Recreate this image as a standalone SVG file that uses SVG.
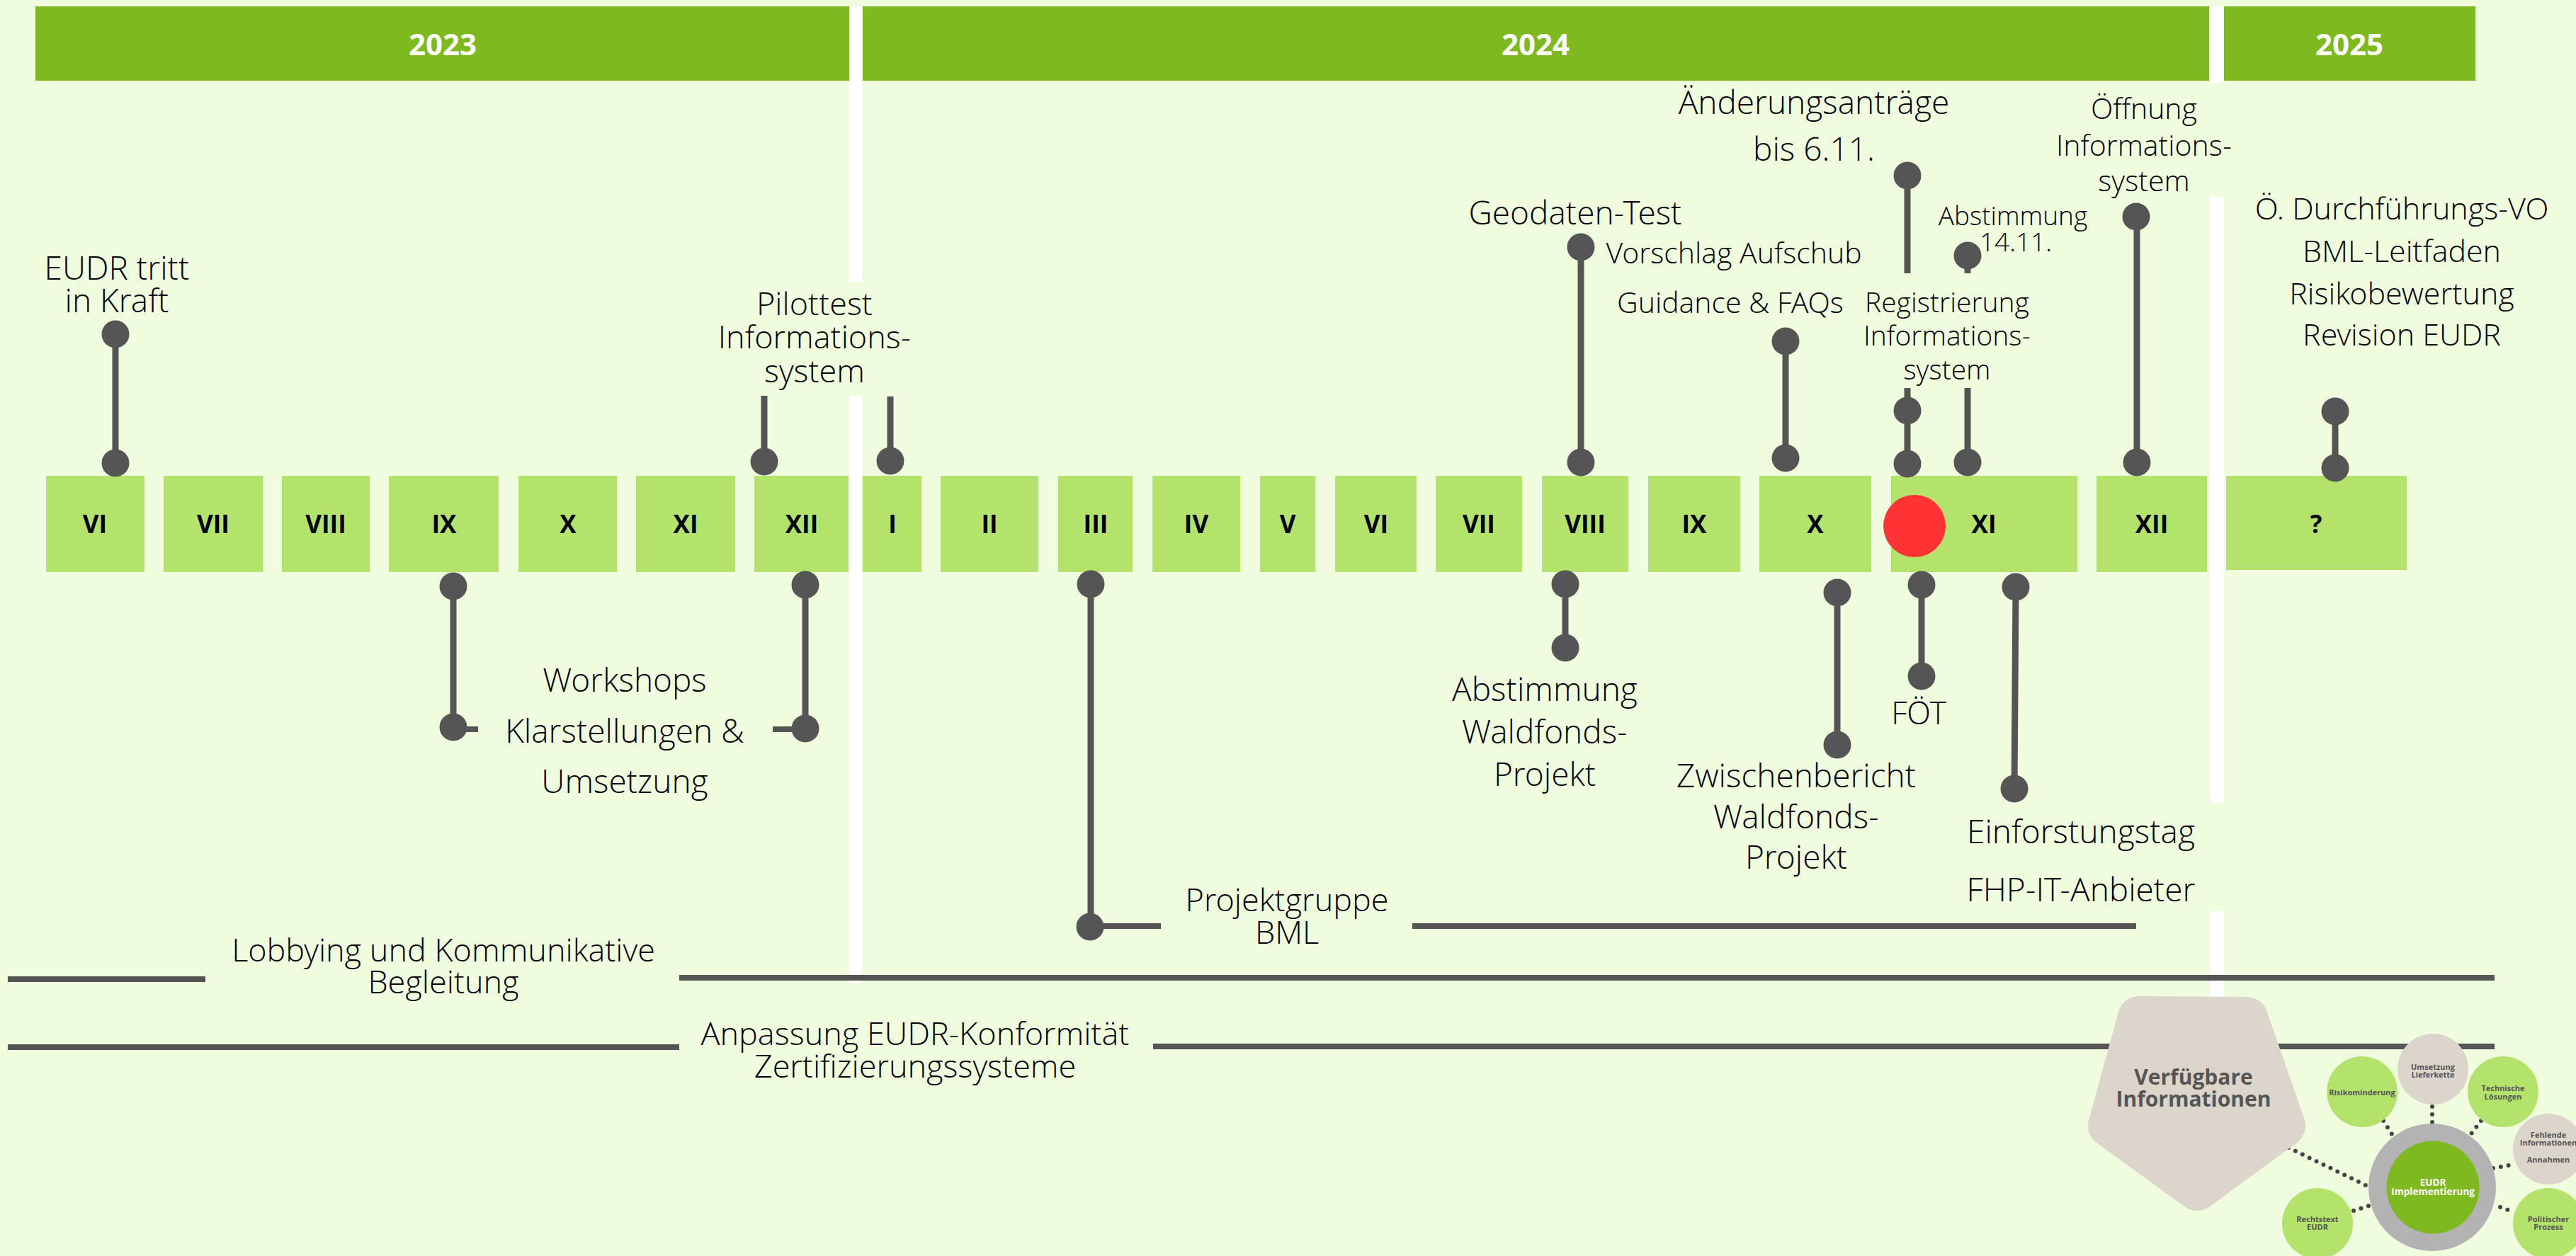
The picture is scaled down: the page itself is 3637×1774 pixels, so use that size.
<svg xmlns="http://www.w3.org/2000/svg" width="3637" height="1774" viewBox="0 0 3637 1774">
<style>
.yr{fill:#7FB920}
.yt{font-family:"Open Sans","Liberation Sans",sans-serif;font-weight:700;font-size:42px;fill:#FFFFFF;text-anchor:middle}
.mb{fill:#B3E36B}
.mt{font-family:"Open Sans","Liberation Sans",sans-serif;font-weight:700;font-size:35px;fill:#000;text-anchor:middle}
.lbl{font-family:"Open Sans Light","Open Sans","Liberation Sans",sans-serif;font-weight:300;font-size:46px;fill:#000;text-anchor:middle}
.sep{fill:#FFFFFF}
.pl{stroke:#555555;stroke-width:9;fill:none}
.pd{fill:#555555}
.bar{stroke:#555555;stroke-width:8;fill:none}
.ct{font-family:"Open Sans","Liberation Sans",sans-serif;font-weight:700;font-size:11px;fill:#555555;text-anchor:middle}
.dots{stroke:#444444;stroke-width:6;stroke-linecap:round;stroke-dasharray:0 11;fill:none}
</style>
<rect width="3637" height="1774" fill="#F0FCDE"/>

<g id="separators">
<rect class="sep" x="1199" y="9" width="18" height="389"/>
<rect class="sep" x="1199" y="559" width="18" height="830"/>
<rect class="sep" x="3120" y="9" width="20" height="108"/>
<rect class="sep" x="3120" y="278" width="20" height="856"/>
<rect class="sep" x="3120" y="1287" width="20" height="121"/>
</g>

<g id="years">
<g id="y2023"><rect class="yr" x="50" y="9" width="1149" height="105"/><text class="yt" x="625" y="78">2023</text></g>
<g id="y2024"><rect class="yr" x="1218" y="9" width="1901" height="105"/><text class="yt" x="2168" y="78">2024</text></g>
<g id="y2025"><rect class="yr" x="3140" y="9" width="355" height="105"/><text class="yt" x="3317" y="78">2025</text></g>
</g>

<g id="months">
<g id="m23-06"><rect class="mb" x="65" y="672" width="139" height="136"/><text class="mt" x="134" y="753">VI</text></g>
<g id="m23-07"><rect class="mb" x="231" y="672" width="140" height="136"/><text class="mt" x="301" y="753">VII</text></g>
<g id="m23-08"><rect class="mb" x="398" y="672" width="124" height="136"/><text class="mt" x="460" y="753">VIII</text></g>
<g id="m23-09"><rect class="mb" x="549" y="672" width="155" height="136"/><text class="mt" x="627" y="753">IX</text></g>
<g id="m23-10"><rect class="mb" x="732" y="672" width="139" height="136"/><text class="mt" x="802" y="753">X</text></g>
<g id="m23-11"><rect class="mb" x="898" y="672" width="140" height="136"/><text class="mt" x="968" y="753">XI</text></g>
<g id="m23-12"><rect class="mb" x="1065" y="672" width="133" height="136"/><text class="mt" x="1132" y="753">XII</text></g>
<g id="m24-01"><rect class="mb" x="1218" y="672" width="83" height="136"/><text class="mt" x="1260" y="753">I</text></g>
<g id="m24-02"><rect class="mb" x="1328" y="672" width="138" height="136"/><text class="mt" x="1397" y="753">II</text></g>
<g id="m24-03"><rect class="mb" x="1494" y="672" width="105" height="136"/><text class="mt" x="1547" y="753">III</text></g>
<g id="m24-04"><rect class="mb" x="1627" y="672" width="124" height="136"/><text class="mt" x="1689" y="753">IV</text></g>
<g id="m24-05"><rect class="mb" x="1779" y="672" width="78" height="136"/><text class="mt" x="1818" y="753">V</text></g>
<g id="m24-06"><rect class="mb" x="1885" y="672" width="115" height="136"/><text class="mt" x="1943" y="753">VI</text></g>
<g id="m24-07"><rect class="mb" x="2027" y="672" width="122" height="136"/><text class="mt" x="2088" y="753">VII</text></g>
<g id="m24-08"><rect class="mb" x="2177" y="672" width="122" height="136"/><text class="mt" x="2238" y="753">VIII</text></g>
<g id="m24-09"><rect class="mb" x="2327" y="672" width="130" height="136"/><text class="mt" x="2392" y="753">IX</text></g>
<g id="m24-10"><rect class="mb" x="2484" y="672" width="158" height="136"/><text class="mt" x="2563" y="753">X</text></g>
<g id="m24-11"><rect class="mb" x="2670" y="672" width="263" height="136"/><text class="mt" x="2801" y="753">XI</text></g>
<g id="m24-12"><rect class="mb" x="2960" y="672" width="156" height="136"/><text class="mt" x="3038" y="753">XII</text></g>
<g id="m25"><rect class="mb" x="3143" y="672" width="255" height="133"/><text class="mt" x="3270" y="753">?</text></g>
<circle id="today" cx="2703" cy="743" r="44" fill="#FF3333"/>
</g>

<g id="connectors">
<g id="bars">
<line class="bar" x1="11" y1="1383" x2="290" y2="1383"/>
<line class="bar" x1="959" y1="1381" x2="3522" y2="1381"/>
<line class="bar" x1="11" y1="1479" x2="959" y2="1479"/>
<line class="bar" x1="1628" y1="1478" x2="3522" y2="1478"/>
<line class="bar" x1="1994" y1="1308" x2="3016" y2="1308"/>
</g>
<g id="pins">
<line class="pl" x1="163" y1="472" x2="163" y2="654"/><circle class="pd" cx="163" cy="472" r="19.5"/><circle class="pd" cx="163" cy="654" r="19.5"/>
<line class="pl" x1="1079" y1="559" x2="1079" y2="652"/><circle class="pd" cx="1079" cy="652" r="19.5"/>
<line class="pl" x1="1257" y1="560" x2="1257" y2="651"/><circle class="pd" cx="1257" cy="651" r="19.5"/>
<line class="pl" x1="640" y1="828" x2="640" y2="1027"/><line class="bar" x1="640" y1="1030" x2="675" y2="1030"/><circle class="pd" cx="640" cy="828" r="19.5"/><circle class="pd" cx="640" cy="1027" r="19.5"/>
<line class="pl" x1="1137" y1="826" x2="1137" y2="1029"/><line class="bar" x1="1091" y1="1030" x2="1137" y2="1030"/><circle class="pd" cx="1137" cy="826" r="19.5"/><circle class="pd" cx="1137" cy="1029" r="19.5"/>
<line class="pl" x1="1540" y1="825" x2="1540" y2="1309"/><line class="bar" x1="1540" y1="1308" x2="1639" y2="1308"/><circle class="pd" cx="1540" cy="825" r="19.5"/><circle class="pd" cx="1539" cy="1309" r="19.5"/>
<line class="pl" x1="2232" y1="349" x2="2232" y2="653"/><circle class="pd" cx="2232" cy="349" r="19.5"/><circle class="pd" cx="2232" cy="653" r="19.5"/>
<line class="pl" x1="2210" y1="825" x2="2210" y2="915"/><circle class="pd" cx="2210" cy="825" r="19.5"/><circle class="pd" cx="2210" cy="915" r="19.5"/>
<line class="pl" x1="2521" y1="482" x2="2521" y2="647"/><circle class="pd" cx="2521" cy="482" r="19.5"/><circle class="pd" cx="2521" cy="647" r="19.5"/>
<line class="pl" x1="2594" y1="837" x2="2594" y2="1052"/><circle class="pd" cx="2594" cy="837" r="19.5"/><circle class="pd" cx="2594" cy="1052" r="19.5"/>
<line class="pl" x1="2693" y1="248" x2="2693" y2="386"/><circle class="pd" cx="2693" cy="248" r="19.5"/>
<line class="pl" x1="2693" y1="548" x2="2693" y2="655"/><circle class="pd" cx="2693" cy="580" r="19.5"/><circle class="pd" cx="2693" cy="655" r="19.5"/>
<line class="pl" x1="2778" y1="361" x2="2778" y2="386"/><circle class="pd" cx="2778" cy="361" r="19.5"/>
<line class="pl" x1="2778" y1="548" x2="2778" y2="653"/><circle class="pd" cx="2778" cy="653" r="19.5"/>
<line class="pl" x1="3017" y1="306" x2="3017" y2="653"/><circle class="pd" cx="3016" cy="306" r="19.5"/><circle class="pd" cx="3017" cy="653" r="19.5"/>
<line class="pl" x1="3297" y1="581" x2="3297" y2="661"/><circle class="pd" cx="3297" cy="581" r="19.5"/><circle class="pd" cx="3297" cy="661" r="19.5"/>
<line class="pl" x1="2713" y1="826" x2="2713" y2="955"/><circle class="pd" cx="2713" cy="826" r="19.5"/><circle class="pd" cx="2713" cy="955" r="19.5"/>
<line class="pl" x1="2846" y1="829" x2="2844" y2="1114"/><circle class="pd" cx="2846" cy="829" r="19.5"/><circle class="pd" cx="2844" cy="1114" r="19.5"/>
</g>
</g>

<g id="labels">
<text id="l-eudr" class="lbl"><tspan x="165" y="395">EUDR tritt</tspan><tspan x="165" y="441">in Kraft</tspan></text>
<text id="l-pilot" class="lbl" style="font-size:45px"><tspan x="1150" y="445">Pilottest</tspan><tspan x="1150" y="492">Informations-</tspan><tspan x="1150" y="540">system</tspan></text>
<text id="l-workshops" class="lbl"><tspan x="882" y="977">Workshops</tspan><tspan x="882" y="1049">Klarstellungen &amp;</tspan><tspan x="882" y="1120">Umsetzung</tspan></text>
<text id="l-projekt" class="lbl" style="font-size:45px"><tspan x="1817" y="1287">Projektgruppe</tspan><tspan x="1817" y="1333">BML</tspan></text>
<text id="l-geo" class="lbl" x="2224" y="317">Geodaten-Test</text>
<text id="l-vorschlag" class="lbl" style="font-size:41px" x="2448" y="372">Vorschlag Aufschub</text>
<text id="l-guidance" class="lbl" style="font-size:41px" x="2443" y="442">Guidance &amp; FAQs</text>
<text id="l-aenderung" class="lbl"><tspan x="2561" y="161">Änderungsanträge</tspan><tspan x="2561" y="227">bis 6.11.</tspan></text>
<text id="l-abst1411" class="lbl" style="font-size:37px"><tspan x="2842" y="318">Abstimmung</tspan><tspan x="2846" y="355">14.11.</tspan></text>
<text id="l-registrierung" class="lbl" style="font-size:39px"><tspan x="2749" y="441">Registrierung</tspan><tspan x="2749" y="488">Informations-</tspan><tspan x="2749" y="536">system</tspan></text>
<text id="l-oeffnung" class="lbl" style="font-size:41px"><tspan x="3027" y="168">Öffnung</tspan><tspan x="3027" y="220">Informations-</tspan><tspan x="3027" y="270">system</tspan></text>
<text id="l-2025" class="lbl" style="font-size:43px"><tspan x="3391" y="310">Ö. Durchführungs-VO</tspan><tspan x="3391" y="370">BML-Leitfaden</tspan><tspan x="3391" y="430">Risikobewertung</tspan><tspan x="3391" y="488">Revision EUDR</tspan></text>
<text id="l-abstwald" class="lbl"><tspan x="2181" y="990">Abstimmung</tspan><tspan x="2181" y="1050">Waldfonds-</tspan><tspan x="2181" y="1110">Projekt</tspan></text>
<text id="l-zwischen" class="lbl"><tspan x="2536" y="1112">Zwischenbericht</tspan><tspan x="2536" y="1170">Waldfonds-</tspan><tspan x="2536" y="1227">Projekt</tspan></text>
<text id="l-foet" class="lbl" style="font-size:44px" x="2709" y="1023">FÖT</text>
<text id="l-einforst" class="lbl"><tspan x="2938" y="1191">Einforstungstag</tspan><tspan x="2938" y="1273">FHP-IT-Anbieter</tspan></text>
<text id="l-lobby" class="lbl" style="font-size:45px"><tspan x="626" y="1358">Lobbying und Kommunikative</tspan><tspan x="626" y="1403">Begleitung</tspan></text>
<text id="l-anpassung" class="lbl" style="font-size:45px"><tspan x="1292" y="1476">Anpassung EUDR-Konformität</tspan><tspan x="1292" y="1522">Zertifizierungssysteme</tspan></text>
</g>

<g id="cluster">
<g id="cluster-links">
<line class="dots" x1="3231" y1="1621" x2="3342" y2="1675"/>
<line class="dots" x1="3365" y1="1583" x2="3379" y2="1605"/>
<line class="dots" x1="3434" y1="1563" x2="3434" y2="1587"/>
<line class="dots" x1="3503" y1="1583" x2="3487" y2="1604"/>
<line class="dots" x1="3520" y1="1650" x2="3542" y2="1646"/>
<line class="dots" x1="3530" y1="1705" x2="3541" y2="1709"/>
<line class="dots" x1="3323" y1="1710" x2="3345" y2="1703"/>
</g>
<g id="verfuegbar">
<polygon points="3020,1437 3172,1438 3225,1590 3102,1680 2978,1590" fill="#DCD5CB" stroke="#DCD5CB" stroke-width="60" stroke-linejoin="round"/>
<text class="ct" style="font-size:30px"><tspan x="3097" y="1532">Verfügbare</tspan><tspan x="3097" y="1563">Informationen</tspan></text>
</g>
<g id="c-risiko"><circle cx="3335" cy="1542" r="50" fill="#B3E36B"/><text class="ct" x="3335" y="1547">Risikominderung</text></g>
<g id="c-umsetzung"><circle cx="3435" cy="1510" r="50" fill="#DCD5CB"/><text class="ct"><tspan x="3435" y="1511">Umsetzung</tspan><tspan x="3435" y="1522">Lieferkette</tspan></text></g>
<g id="c-technisch"><circle cx="3534" cy="1542" r="50" fill="#B3E36B"/><text class="ct"><tspan x="3534" y="1541">Technische</tspan><tspan x="3534" y="1553">Lösungen</tspan></text></g>
<g id="c-fehlend"><circle cx="3598" cy="1623" r="50" fill="#DCD5CB"/><text class="ct"><tspan x="3598" y="1607">Fehlende</tspan><tspan x="3598" y="1618">Informationen</tspan><tspan x="3598" y="1642">Annahmen</tspan></text></g>
<g id="c-politisch"><circle cx="3598" cy="1728" r="50" fill="#B3E36B"/><text class="ct"><tspan x="3598" y="1726">Politischer</tspan><tspan x="3598" y="1737">Prozess</tspan></text></g>
<g id="c-recht"><circle cx="3272" cy="1728" r="50" fill="#B3E36B"/><text class="ct"><tspan x="3272" y="1726">Rechtstext</tspan><tspan x="3272" y="1737">EUDR</tspan></text></g>
<g id="c-center"><circle cx="3434" cy="1677" r="90" fill="#B3B3B3"/><circle cx="3435" cy="1677" r="65.5" fill="#7FB920"/><text class="ct" style="font-size:13.5px;fill:#FFFFFF"><tspan x="3435" y="1675">EUDR</tspan><tspan x="3435" y="1688">Implementierung</tspan></text></g>
</g>
</svg>
